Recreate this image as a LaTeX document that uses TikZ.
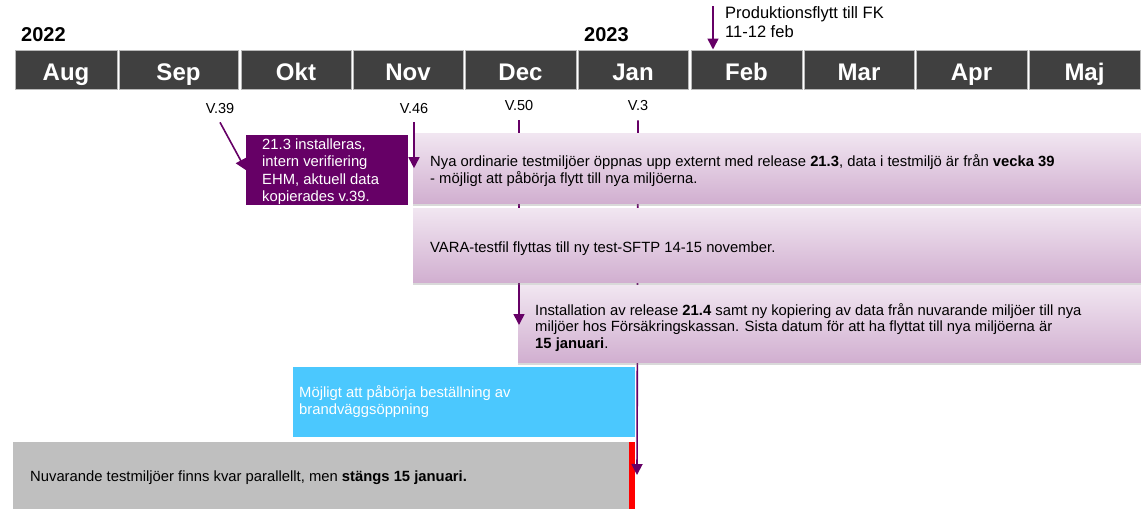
\documentclass[tikz,border=0pt]{standalone}
\usepackage{fontspec}
\setmainfont{Liberation Sans}
\usetikzlibrary{arrows.meta,shadows}

\definecolor{manadgra}{HTML}{404040}
\definecolor{lila}{HTML}{660066}
\definecolor{rosatopp}{HTML}{F1E6F1}
\definecolor{rosabotten}{HTML}{D1AFD0}
\definecolor{himmelsbla}{HTML}{4BC8FE}
\definecolor{ljusgra}{HTML}{BFBFBF}

\tikzset{
  manad/.style={draw=gray!55, line width=1pt, fill=manadgra, text=white,
    font=\fontsize{24}{24}\selectfont\bfseries, minimum height=39pt,
    inner sep=0pt, text height=22pt, text depth=1pt},
  ar/.style={font=\fontsize{20}{20}\selectfont\bfseries, inner sep=0pt},
  vecka/.style={font=\fontsize{14.5}{17}\selectfont, inner sep=0pt},
  brodtext/.style={font=\fontsize{14.8}{16.5}\selectfont, inner sep=0pt, align=left},
  ruta/.style={anchor=north west, inner sep=0pt, draw=none},
  rosa/.style={ruta, top color=rosatopp, bottom color=rosabotten,
    drop shadow={opacity=0.3, shadow xshift=0pt, shadow yshift=-3pt}},
  pil/.style={draw=lila, line width=1.6pt, -{Triangle[width=11pt,length=11pt]}},
}

\begin{document}
\begin{tikzpicture}[x=1pt,y=-1pt]
    \useasboundingbox (0,0) rectangle (1141,509);

    % Tidslinje
    \node[ar, anchor=base west] (ar2022) at (21,41) {2022};
    \node[ar, anchor=base west] (ar2023) at (584,41) {2023};
    \foreach \m/\a/\b in {Aug/15/117, Sep/119/238, Okt/241/351, Nov/353/463,
        Dec/465/576, Jan/578/688, Feb/691/802, Mar/804/914, Apr/916/1027, Maj/1029/1140}
        \node[manad, minimum width={(\b-\a)*1pt}] (\m) at ({(\a+\b)/2},69.5) {\m};

    \coordinate (prodstart) at (713,6);
    \draw[pil] (prodstart) -- (prodstart |- Feb.north);
    % sista radens baslinje
    \node[brodtext, font=\fontsize{16.5}{19}\selectfont, anchor=base west] (prod) at (725,37)
        {Produktionsflytt till FK\\11-12 feb};

    % Veckor
    \node[vecka, anchor=base] (v39) at (220,113) {V.39};
    \node[vecka, anchor=base] (v46) at (414,113) {V.46};
    \node[vecka, anchor=base] (v50) at (519,110) {V.50};
    \node[vecka, anchor=base] (v3) at (638,110) {V.3};

    % Nuvarande miljöer och brandvägg
    \node[ruta, fill=himmelsbla, minimum width=342pt, minimum height=70pt] (brand) at (293,367) {};
    \node[brodtext, text=white, font=\fontsize{14.8}{17}\selectfont, anchor=base west] (brandtext) at (299,414)
        {Möjligt att påbörja beställning av\\brandväggsöppning};
    \node[ruta, fill=ljusgra, minimum width=616pt, minimum height=67pt] (nuvarande) at (13,442) {};
    \node[ruta, fill=red, minimum width=6pt, minimum height=67pt] (stopp) at (629,442) {};
    \node[brodtext, anchor=base west] (nuvtext) at (30,481.5)
        {Nuvarande testmiljöer finns kvar parallellt, men \textbf{stängs 15 januari.}};

    \coordinate (stang) at (637,475);
    \draw[pil] ([yshift=-10pt]v3.south) -- (stang);

    % Release 21.4
    \node[rosa, minimum width=623pt, minimum height=77pt] (ruta3) at (518,285) {};
    \node[brodtext, anchor=base west] (text3) at (535,348)
        {Installation av release \textbf{21.4} samt ny kopiering av data från nuvarande miljöer till nya\\
         miljöer hos Försäkringskassan. Sista datum för att ha flyttat till nya miljöerna är\\
         \textbf{15 januari}.};
    \draw[pil] ([yshift=-10pt]v50.south) -- (v50.south |- 0,325);

    % Release 21.3 och VARA
    \node[rosa, minimum width=728pt, minimum height=70pt] (ruta1) at (413,133) {};
    \node[brodtext, anchor=base west] (text1) at (430,183)
        {Nya ordinarie testmiljöer öppnas upp externt med release \textbf{21.3}, data i testmiljö är från \textbf{vecka 39}\\
         - möjligt att påbörja flytt till nya miljöerna.};
    \node[rosa, minimum width=728pt, minimum height=74pt] (ruta2) at (413,208) {};
    \node[brodtext, anchor=base west] (text2) at (430,252)
        {VARA-testfil flyttas till ny test-SFTP 14-15 november.};

    % Intern verifiering
    \node[ruta, fill=lila, minimum width=162pt, minimum height=70pt] (ehm) at (246,135) {};
    \node[brodtext, text=white, font=\fontsize{14.8}{17.5}\selectfont, anchor=base west] (ehmtext) at (262,201.5)
        {21.3 installeras,\\intern verifiering\\EHM, aktuell data\\kopierades v.39.};
    \draw[pil] ([yshift=-9pt]v39.south) -- (ehm.west);
    \draw[pil] ([yshift=-9pt]v46.south) -- (v46.south |- ruta1.west);
\end{tikzpicture}
\end{document}
